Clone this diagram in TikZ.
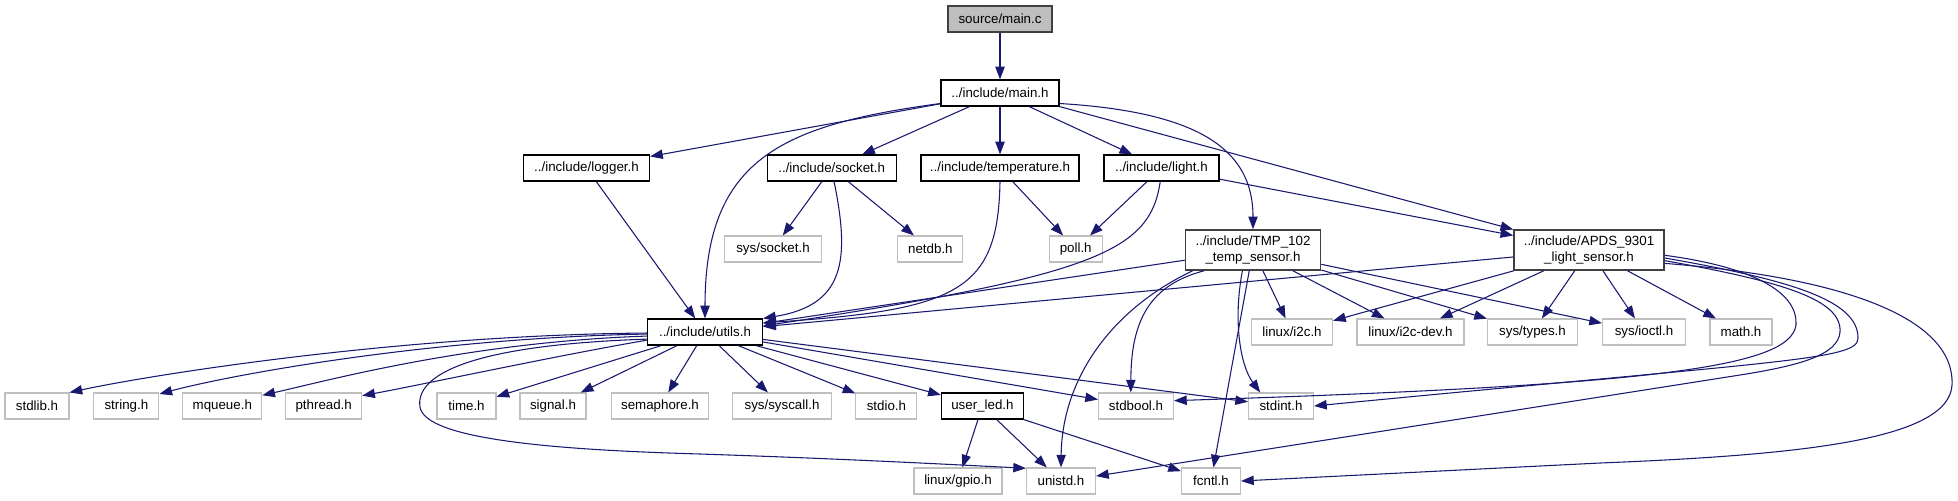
\documentclass[tikz,border=0pt]{standalone}
\usepackage{fontspec}
\setmainfont{Liberation Sans}
\usetikzlibrary{arrows.meta}
\definecolor{edgec}{HTML}{191970}
\definecolor{grayb}{HTML}{BFBFBF}
\definecolor{darkb}{HTML}{404040}
\tikzset{
  box/.style={draw=black, line width=0.9pt, fill=white, minimum height=19.5pt,
    inner sep=0pt, font=\fontsize{10}{11}\selectfont, text=black},
  ext/.style={box, draw=grayb, line width=0.8pt},
  twoline/.style={box, draw=darkb, line width=1.2pt, minimum height=30pt,
    align=center, font=\fontsize{10}{11.5}\selectfont},
  root/.style={box, draw=darkb, fill=grayb, line width=1.2pt},
  bw/.style={minimum width=#1*0.75pt},
  edge/.style={draw=edgec, line width=0.8pt, -{Triangle[length=9.5pt,width=7pt]}},
}
\begin{document}
\begin{tikzpicture}[x=0.75pt,y=-0.75pt]
\useasboundingbox (0,0) rectangle (1958,500);
% nodes
\node[root,bw=104] (mainc) at (1000,19) {source/main.c};
\node[box,bw=118] (mainh) at (1000,93) {../include/main.h};
\node[box,bw=126] (logger) at (586.5,168) {../include/logger.h};
\node[box,bw=129] (socket) at (831.7,168) {../include/socket.h};
\node[box,bw=158] (temp) at (1000,168) {../include/temperature.h};
\node[box,bw=115] (light) at (1161.4,168) {../include/light.h};
\node[twoline,bw=135] (TMP) at (1253,250) {../include/TMP\_102\\\_temp\_sensor.h};
\node[twoline,bw=150] (APDS) at (1589,250) {../include/APDS\_9301\\\_light\_sensor.h};
\node[ext,bw=97] (syssocket) at (773,249) {sys/socket.h};
\node[ext,bw=65] (netdb) at (930.4,249) {netdb.h};
\node[ext,bw=53] (poll) at (1075.7,249) {poll.h};
\node[box,bw=115] (utils) at (705,332) {../include/utils.h};
\node[ext,bw=81] (i2c) at (1292,332) {linux/i2c.h};
\node[ext,bw=107] (i2cdev) at (1410.5,332) {linux/i2c-dev.h};
\node[ext,bw=90] (systypes) at (1532.5,332) {sys/types.h};
\node[ext,bw=83] (sysioctl) at (1644,332) {sys/ioctl.h};
\node[ext,bw=62] (math) at (1741,332) {math.h};
\node[ext,bw=64] (stdlib) at (37,406) {stdlib.h};
\node[ext,bw=65] (string) at (126.4,406) {string.h};
\node[ext,bw=79] (mqueue) at (222.3,406) {mqueue.h};
\node[ext,bw=76] (pthread) at (323.7,406) {pthread.h};
\node[ext,bw=59] (time) at (466.5,406) {time.h};
\node[ext,bw=66] (signal) at (553,406) {signal.h};
\node[ext,bw=97] (semaphore) at (660,406) {semaphore.h};
\node[ext,bw=99] (syscall) at (782,406) {sys/syscall.h};
\node[ext,bw=61] (stdio) at (886.4,406) {stdio.h};
\node[box,bw=82] (userled) at (982.4,406) {user\_led.h};
\node[ext,bw=75] (stdbool) at (1136,406) {stdbool.h};
\node[ext,bw=65] (stdint) at (1281,406) {stdint.h};
\node[ext,bw=88] (gpio) at (958,481) {linux/gpio.h};
\node[ext,bw=69] (unistd) at (1061,481) {unistd.h};
\node[ext,bw=59] (fcntl) at (1211,481) {fcntl.h};
% main.c
\draw[edge] (mainc) -- (mainh);
% main.h
\draw[edge] (mainh) -- (logger);
\draw[edge] (mainh) -- (socket);
\draw[edge] (mainh) -- (temp);
\draw[edge] (mainh) -- (light);
\draw[edge] (mainh.-10) .. controls (1200,112) and (1253,150) .. (TMP.north);
\draw[edge] (mainh.south east) -- (APDS);
\draw[edge] (mainh.190) .. controls (780,125) and (705,160) .. (utils.north);
% logger
\draw[edge] (logger) -- (utils);
% socket
\draw[edge] (socket) -- (syssocket);
\draw[edge] (socket) -- (netdb);
\draw[edge] (socket.-80) .. controls (850,260) and (845,305) .. (utils.north east);
% temperature
\draw[edge] (temp) -- (poll);
\draw[edge] (temp.south) .. controls (998,290) and (960,310) .. (utils.9);
% light
\draw[edge] (light) -- (poll);
\draw[edge] (light) -- (APDS);
\draw[edge] (light.-95) .. controls (1150,250) and (1100,275) .. (utils.6);
% TMP_102
\draw[edge] (TMP) -- (utils);
\draw[edge] (TMP) -- (i2c);
\draw[edge] (TMP) -- (i2cdev);
\draw[edge] (TMP) -- (systypes);
\draw[edge] (TMP) -- (sysioctl);
\draw[edge] (TMP.-157) .. controls (1150,285) and (1131,320) .. (stdbool.111);
\draw[edge] (TMP.-161) .. controls (1110,310) and (1062,380) .. (unistd.north);
\draw[edge] (TMP) -- (fcntl);
\draw[edge] (TMP.-117) .. controls (1233,320) and (1240,365) .. (stdint.147);
% APDS
\draw[edge] (APDS) -- (utils);
\draw[edge] (APDS) -- (i2c);
\draw[edge] (APDS) -- (i2cdev);
\draw[edge] (APDS) -- (systypes);
\draw[edge] (APDS) -- (sysioctl);
\draw[edge] (APDS) -- (math);
\draw[edge] (APDS.-4) .. controls (1760,268) and (1798,295) .. (1796,325)
  .. controls (1790,368) and (1650,385) .. (stdbool.8);
\draw[edge] (APDS.-6) .. controls (1790,280) and (1858,300) .. (1858,338)
  .. controls (1858,360) and (1790,360) .. (stdint.east);
\draw[edge] (APDS.-8) .. controls (1785,282) and (1842,300) .. (1840,332)
  .. controls (1838,355) and (1800,365.5) .. (1740,375) -- (unistd.8);
\draw[edge] (APDS.-10) .. controls (1850,278) and (1955,320) .. (1952,385)
  .. controls (1949,440) and (1800,455) .. (1600,463) -- (fcntl.east);
% utils
\draw[edge] (utils.181) .. controls (400,335) and (150,375) .. (stdlib.north east);
\draw[edge] (utils.182) .. controls (430,338) and (230,375) .. (string.20);
\draw[edge] (utils.184) .. controls (470,342) and (330,380) .. (mqueue.15);
\draw[edge] (utils.188) .. controls (560,355) and (420,385) .. (pthread.15);
\draw[edge] (utils) -- (time);
\draw[edge] (utils) -- (signal);
\draw[edge] (utils) -- (semaphore);
\draw[edge] (utils) -- (syscall);
\draw[edge] (utils) -- (stdio);
\draw[edge] (utils) -- (userled);
\draw[edge] (utils) -- (stdbool);
\draw[edge] (utils) -- (stdint);
\draw[edge] (utils.187) .. controls (470,345) and (415,375) .. (420,407)
  .. controls (425,440) and (560,450) .. (700,454)
  .. controls (850,459) and (960,465) .. (unistd.160);
% user_led
\draw[edge] (userled) -- (gpio);
\draw[edge] (userled) -- (unistd);
\draw[edge] (userled) -- (fcntl);
\end{tikzpicture}
\end{document}
